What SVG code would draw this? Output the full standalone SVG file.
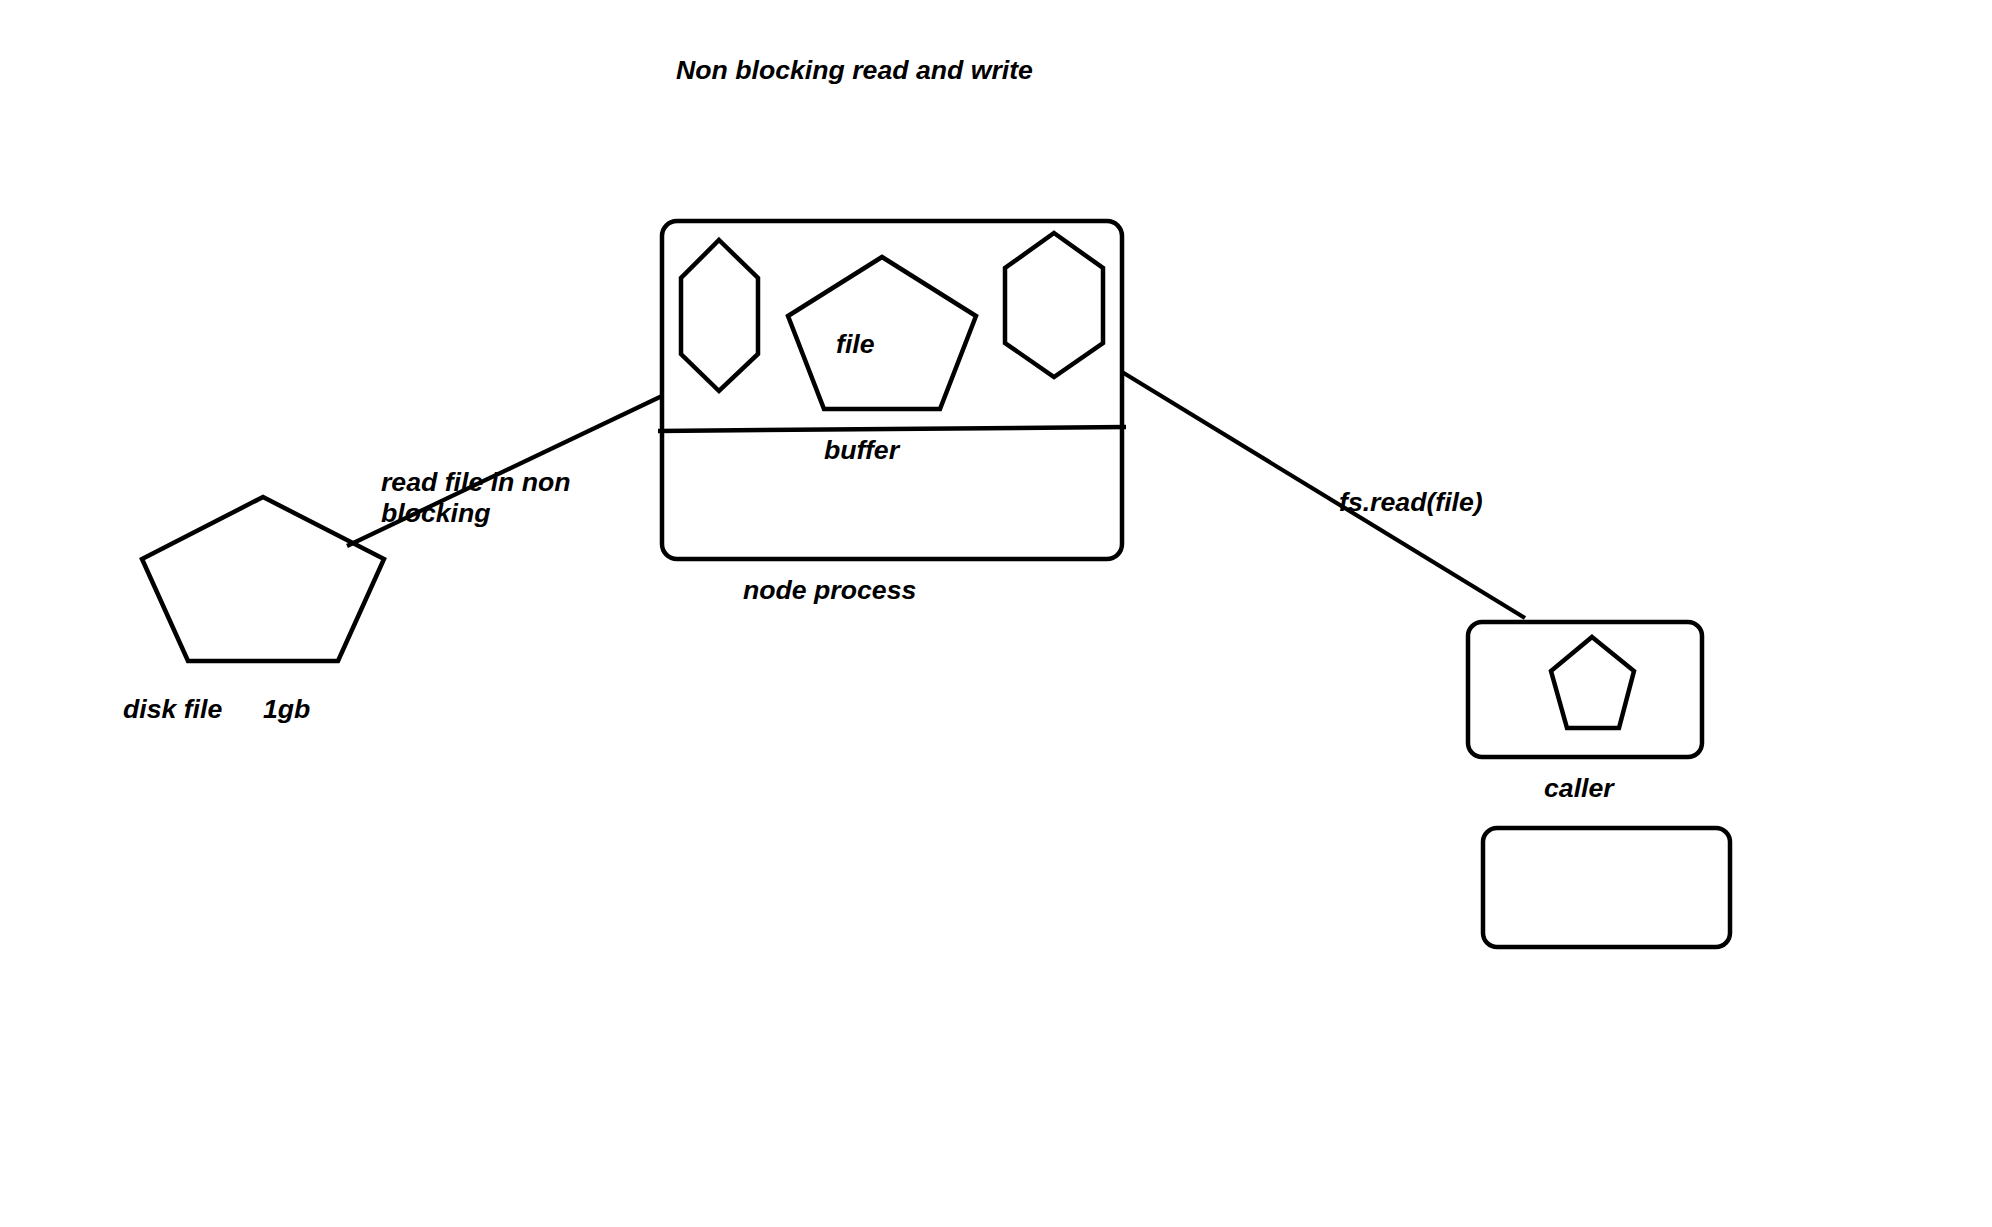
<svg xmlns="http://www.w3.org/2000/svg" width="1992" height="1227" viewBox="0 0 1992 1227">
<style>
.s{fill:none;stroke:#000;stroke-width:4.5;stroke-linejoin:miter}
.c{fill:none;stroke:#000;stroke-width:4.2}
text{font-family:"Liberation Sans",Arial,sans-serif;font-weight:bold;font-style:italic;font-size:26.67px;fill:#000}
</style>
<rect width="1992" height="1227" fill="#fff"/>
<text x="676" y="78.5">Non blocking read and write</text>
<g id="connectors">
<line class="c" x1="347" y1="546" x2="662" y2="396"/>
<line class="c" x1="1122" y1="372" x2="1525" y2="618"/>
</g>
<g id="node-process">
<rect class="s" x="662" y="221" width="460" height="338" rx="15"/>
<polygon class="s" points="719,240 758,278 758,354 719,391 681,354 681,278"/>
<polygon class="s" points="882,257 976,316 940,409 824,409 788,316"/>
<polygon class="s" points="1054,233 1103,268 1103,343 1054,377 1005,343 1005,268"/>
<line class="s" x1="658" y1="431" x2="1126" y2="427"/>
<text x="836" y="353">file</text>
<text x="824" y="459">buffer</text>
<text x="743" y="598.5">node process</text>
</g>
<g id="disk-file">
<polygon class="s" points="263,497 384,559 338,661 188,661 142,559"/>
<text x="123" y="717.5">disk file</text>
<text x="263" y="717.5">1gb</text>
</g>
<g id="edge-label-read">
<text x="381" y="491">read file in non</text>
<text x="381" y="522">blocking</text>
</g>
<text x="1339" y="510.5">fs.read(file)</text>
<g id="caller">
<rect class="s" x="1468" y="622" width="234" height="135" rx="14"/>
<polygon class="s" points="1592,637 1634,671 1619,728 1567,728 1551,671"/>
<text x="1544" y="797">caller</text>
</g>
<g id="empty-box">
<rect class="s" x="1483" y="828" width="247" height="119" rx="14"/>
</g>
</svg>
